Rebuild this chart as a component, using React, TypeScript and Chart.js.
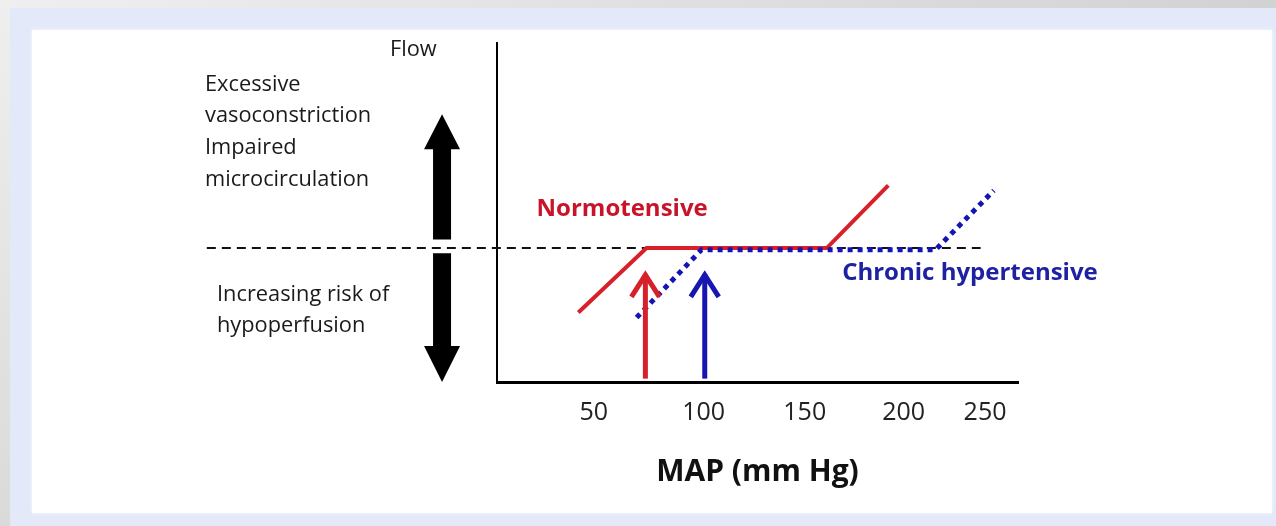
import React, { useEffect, useRef } from 'react';
import { Chart, registerables } from 'chart.js';

Chart.register(...registerables);

// x-axis tick values (schematic positions) and their printed labels
const tickPositions = [50, 100, 146, 191, 228];
const tickLabels = ['50', '100', '150', '200', '250'];

// Normotensive autoregulation curve (MAP, flow)
const normotensiveMap = [43, 74, 156, 184];
const normotensiveFlow = [20.5, 39.5, 39.5, 58];

// Chronic hypertensive autoregulation curve (MAP, flow)
const hypertensiveMap = [69.5, 99, 205.5, 232];
const hypertensiveFlow = [19, 39, 39, 56.5];

// Reference (normal flow) dashed line
const referenceMap = [-126, 226];
const referenceFlow = [39.5, 39.5];

// Lower-limit markers (arrows)
const lowerLimitMap = [73.5, 100.5];
const lowerLimitColors = ['#d8202a', '#1616b0'];
const lowerLimitFlow = [1, 32.5];

// Big double arrow on the left (flow axis)
const doubleArrowMap = -19;
const upArrowFlow = [42, 79];
const downArrowFlow = [38, 0];

const FONT = '"Open Sans", "DejaVu Sans", sans-serif';

function pts(xs: number[], ys: number[]) {
  return xs.map((x, i) => ({ x, y: ys[i] }));
}

function fillArrow(ctx: CanvasRenderingContext2D, x: number, yBase: number, yTip: number, shaftW: number, headW: number, headLen: number) {
  const dir = yTip < yBase ? 1 : -1; // 1 = upward
  const yHeadBase = yTip + dir * headLen;
  ctx.beginPath();
  ctx.moveTo(x - shaftW / 2, yBase);
  ctx.lineTo(x - shaftW / 2, yHeadBase);
  ctx.lineTo(x - headW / 2, yHeadBase);
  ctx.lineTo(x, yTip);
  ctx.lineTo(x + headW / 2, yHeadBase);
  ctx.lineTo(x + shaftW / 2, yHeadBase);
  ctx.lineTo(x + shaftW / 2, yBase);
  ctx.closePath();
  ctx.fill();
}

function lineArrow(ctx: CanvasRenderingContext2D, x: number, yBase: number, yTip: number, color: string) {
  ctx.save();
  ctx.strokeStyle = color;
  ctx.lineWidth = 5;
  ctx.lineCap = 'butt';
  ctx.lineJoin = 'miter';
  ctx.beginPath();
  ctx.moveTo(x, yBase);
  ctx.lineTo(x, yTip + 2);
  ctx.stroke();
  ctx.beginPath();
  ctx.moveTo(x - 14, yTip + 25);
  ctx.lineTo(x, yTip + 3);
  ctx.lineTo(x + 14, yTip + 25);
  ctx.stroke();
  ctx.restore();
}

const annotationPlugin = {
  id: 'schematicAnnotations',
  afterDatasetsDraw(chart: any) {
    const { ctx, chartArea, scales } = chart;
    const xs = scales.x;
    const ys = scales.y;
    ctx.save();

    // lower-limit arrows
    lowerLimitMap.forEach((m, i) => {
      lineArrow(ctx, xs.getPixelForValue(m), ys.getPixelForValue(lowerLimitFlow[0]), ys.getPixelForValue(lowerLimitFlow[1]), lowerLimitColors[i]);
    });

    // big black double arrow
    ctx.fillStyle = '#000';
    const ax = xs.getPixelForValue(doubleArrowMap);
    fillArrow(ctx, ax, ys.getPixelForValue(upArrowFlow[0]), ys.getPixelForValue(upArrowFlow[1]), 18, 36, 35);
    fillArrow(ctx, ax, ys.getPixelForValue(downArrowFlow[0]), ys.getPixelForValue(downArrowFlow[1]), 18, 36, 36);

    // left-hand texts
    const L = chartArea.left;
    ctx.fillStyle = '#1a1a1a';
    ctx.textBaseline = 'middle';
    ctx.textAlign = 'left';
    ctx.font = `21.8px ${FONT}`;
    ctx.fillText('Flow', L - 107, 50);
    ctx.fillText('Excessive', L - 292, 85);
    ctx.fillText('vasoconstriction', L - 292, 116);
    ctx.fillText('Impaired', L - 292, 148);
    ctx.fillText('microcirculation', L - 292, 180);
    ctx.fillText('Increasing risk of', L - 280, 295);
    ctx.fillText('hypoperfusion', L - 280, 326);

    // series labels
    ctx.font = `bold 24px ${FONT}`;
    ctx.fillStyle = '#c8142a';
    ctx.fillText('Normotensive', xs.getPixelForValue(24), ys.getPixelForValue(51));
    ctx.fillStyle = '#1e22a2';
    ctx.fillText('Chronic hypertensive', xs.getPixelForValue(163), ys.getPixelForValue(32));

    // x-axis title
    ctx.fillStyle = '#111';
    ctx.textAlign = 'center';
    ctx.font = `bold 30px ${FONT}`;
    ctx.fillText('MAP (mm Hg)', (chartArea.left + chartArea.right) / 2, chartArea.bottom + 90);
    ctx.restore();
  },
};

export default function App() {
  const ref = useRef<HTMLCanvasElement | null>(null);

  useEffect(() => {
    if (!ref.current) return;
    const chart = new Chart(ref.current, {
      type: 'line',
      data: {
        datasets: [
          {
            label: 'Chronic hypertensive',
            data: pts(hypertensiveMap, hypertensiveFlow),
            borderColor: '#1414b4',
            borderWidth: 5,
            borderDash: [5, 5],
            borderCapStyle: 'butt',
            pointRadius: 0,
            tension: 0,
            fill: false,
          },
          {
            label: 'Normotensive',
            data: pts(normotensiveMap, normotensiveFlow),
            borderColor: '#d8202a',
            borderWidth: 4,
            pointRadius: 0,
            tension: 0,
            fill: false,
          },
          {
            label: 'Reference flow',
            data: pts(referenceMap, referenceFlow),
            borderColor: '#111',
            borderWidth: 2,
            borderDash: [9, 6],
            pointRadius: 0,
            fill: false,
            clip: false as any,
          },
        ],
      },
      options: {
        animation: false,
        responsive: false,
        maintainAspectRatio: false,
        layout: { padding: { left: 497, top: 43, right: 258, bottom: 0 } },
        plugins: { legend: { display: false }, tooltip: { enabled: false } },
        scales: {
          x: {
            type: 'linear',
            min: 6,
            max: 243,
            afterFit: (s: any) => { s.height = 144; },
            afterBuildTicks: (s: any) => { s.ticks = tickPositions.map((v) => ({ value: v })); },
            grid: { display: false, drawTicks: false },
            border: { display: true, color: '#000', width: 3 },
            ticks: {
              padding: 16,
              color: '#222',
              font: { family: FONT, size: 25 },
              maxRotation: 0,
              autoSkip: false,
              callback: (_v: any, i: number) => tickLabels[i],
            },
          },
          y: {
            type: 'linear',
            min: 0,
            max: 100,
            afterFit: (s: any) => { s.width = 0; },
            grid: { display: false, drawTicks: false },
            border: { display: true, color: '#000', width: 2 },
            ticks: { display: false },
          },
        },
      },
      plugins: [annotationPlugin],
    } as any);
    return () => chart.destroy();
  }, []);

  return (
    <div style={{ position: 'fixed', left: 0, top: 0, width: 1276, height: 526, background: '#e3e9f8', overflow: 'hidden' }}>
      <div style={{ position: 'absolute', left: 0, top: 0, width: 1276, height: 8, background: 'linear-gradient(to right, #efefef, #d2d2d2)' }} />
      <div style={{ position: 'absolute', left: 0, top: 0, width: 10, height: 526, background: 'linear-gradient(to bottom, #efefef, #dadada)' }} />
      <div style={{ position: 'absolute', left: 32, top: 30, width: 1240, height: 483, background: '#ffffff', boxShadow: '0 0 3px rgba(255,255,255,0.9)' }} />
      <canvas ref={ref} width={1276} height={526} style={{ position: 'absolute', left: 0, top: 0, width: 1276, height: 526 }} />
    </div>
  );
}
